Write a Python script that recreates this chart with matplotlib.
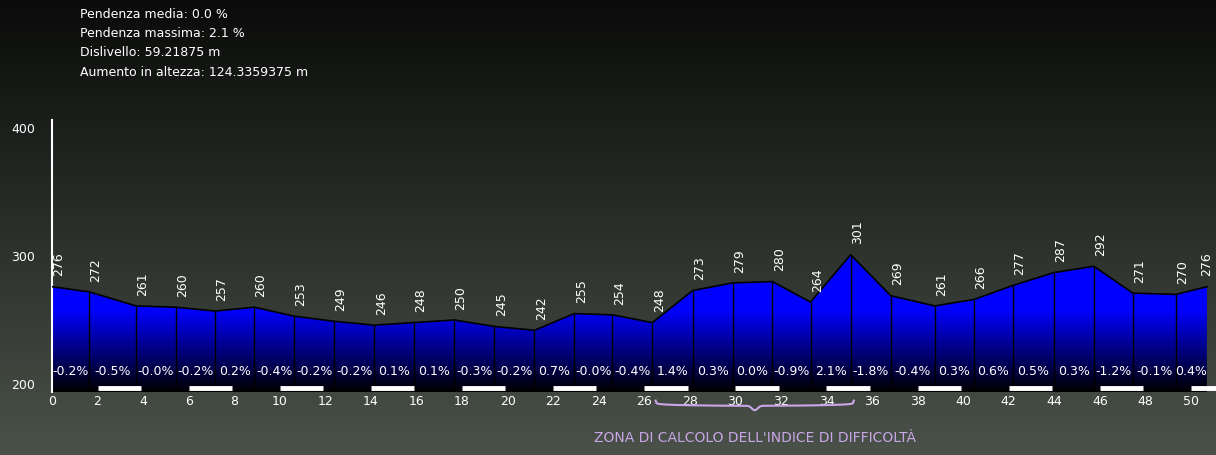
import numpy as np
import matplotlib.pyplot as plt
from matplotlib.patches import Polygon

# profile data
dist_km = [0, 1.63, 3.69, 5.45, 7.16, 8.88, 10.63, 12.39, 14.15, 15.90, 17.66, 19.42,
           21.18, 22.93, 24.60, 26.36, 28.12, 29.88, 31.63, 33.30, 35.06, 36.82, 38.75,
           40.47, 42.18, 43.98, 45.74, 47.45, 49.34, 50.70]
elev = [276, 272, 261, 260, 257, 260, 253, 249, 246, 248, 250, 245, 242, 255, 254, 248,
        273, 279, 280, 264, 301, 269, 261, 266, 277, 287, 292, 271, 270, 276]
grades = ['-0.2%', '-0.5%', '-0.0%', '-0.2%', '0.2%', '-0.4%', '-0.2%', '-0.2%', '0.1%',
          '0.1%', '-0.3%', '-0.2%', '0.7%', '-0.0%', '-0.4%', '1.4%', '0.3%', '0.0%',
          '-0.9%', '2.1%', '-1.8%', '-0.4%', '0.3%', '0.6%', '0.5%', '0.3%', '-1.2%',
          '-0.1%', '0.4%']
xticks = list(range(0, 52, 2))
yticks = [200, 300, 400]
info = ['Pendenza media: 0.0 %', 'Pendenza massima: 2.1 %',
        'Dislivello: 59.21875 m', 'Aumento in altezza: 124.3359375 m']
zone = (26.5, 35.2)

x = np.array(dist_km)
y = np.array(elev)
ybot = 193.75

fig = plt.figure(figsize=(12.16, 4.55), dpi=100)

# background gradient
bg = fig.add_axes([0, 0, 1, 1])
top = np.array([0.04, 0.045, 0.04])
bottom = np.array([0.29, 0.32, 0.285])
t = np.linspace(0, 1, 256)[:, None]
grad = top + (bottom - top) * t
bg.imshow(grad[:, None, :], aspect='auto', extent=[0, 1, 0, 1])
bg.axis('off')

ax = fig.add_axes([52 / 1216, 1 - 392 / 455, 1 - 52 / 1216, 272 / 455])
ax.set_xlim(0, 51.1)
ax.set_ylim(ybot, 406.25)
ax.patch.set_alpha(0)

# blue gradient fill clipped to profile: full blue above ~258, black at bottom
hs = np.linspace(y.max(), ybot, 256)
bluegrad = np.zeros((256, 1, 3))
bluegrad[:, 0, 2] = np.clip((hs - ybot) / (258 - ybot), 0, 1)
im = ax.imshow(bluegrad, aspect='auto', extent=[0, x[-1], ybot, y.max()], zorder=1)
poly = Polygon(np.column_stack([np.r_[x, x[-1], x[0]], np.r_[y, ybot, ybot]]),
               closed=True, facecolor='none', edgecolor='none')
ax.add_patch(poly)
im.set_clip_path(poly)
ax.plot(x, y, color='black', lw=1.2, zorder=3)
ax.vlines(x[1:-1], ybot, y[1:-1], color='black', lw=1, zorder=3)

for i, (xi, yi) in enumerate(zip(x, y)):
    dx = 0.3 if i < len(x) - 1 else 0.0
    ax.text(xi + dx, yi + 8, str(yi), rotation=90, color='white', fontsize=9,
            ha='center', va='bottom', zorder=4)
for i, g in enumerate(grades):
    ax.text((x[i] + x[i + 1]) / 2, 210, g, color='white', fontsize=9,
            ha='center', va='center', zorder=4)

# alternating km bars
for k in range(2, 52, 4):
    ax.plot([k, min(k + 1.9, 51.1)], [197, 197], color='white', lw=3.5,
            solid_capstyle='butt', zorder=5, clip_on=False)

for s in ['top', 'right', 'bottom']:
    ax.spines[s].set_visible(False)
ax.spines['left'].set_color('white')
ax.spines['left'].set_linewidth(1.5)
ax.set_xticks(xticks)
ax.set_xticklabels([str(v) for v in xticks], color='white', fontsize=9)
ax.set_yticks(yticks)
ax.set_yticklabels([str(v) for v in yticks], color='white', fontsize=9)
ax.tick_params(length=0, pad=2)
ax.tick_params(axis='y', pad=12)

# brace for difficulty zone
bx = np.linspace(zone[0], zone[1], 200)
u = (bx - zone[0]) / (zone[1] - zone[0])
by = 187 - 4 * (np.abs(np.sin(np.pi * u)) ** 0.15) - 3.5 * np.exp(-((u - 0.5) / 0.02) ** 2)
ax.plot(bx, by, color='#c9a6e8', lw=1.5, clip_on=False)
ax.text(sum(zone) / 2, 158, "ZONA DI CALCOLO DELL'INDICE DI DIFFICOLTÀ", color='#c9a6e8',
        fontsize=10, ha='center', va='center', clip_on=False)

for i, s in enumerate(info):
    fig.text(80 / 1216, 1 - (14 + i * 19.5) / 455, s, color='white', fontsize=9, va='center')

fig.savefig('out.png', dpi=100)
